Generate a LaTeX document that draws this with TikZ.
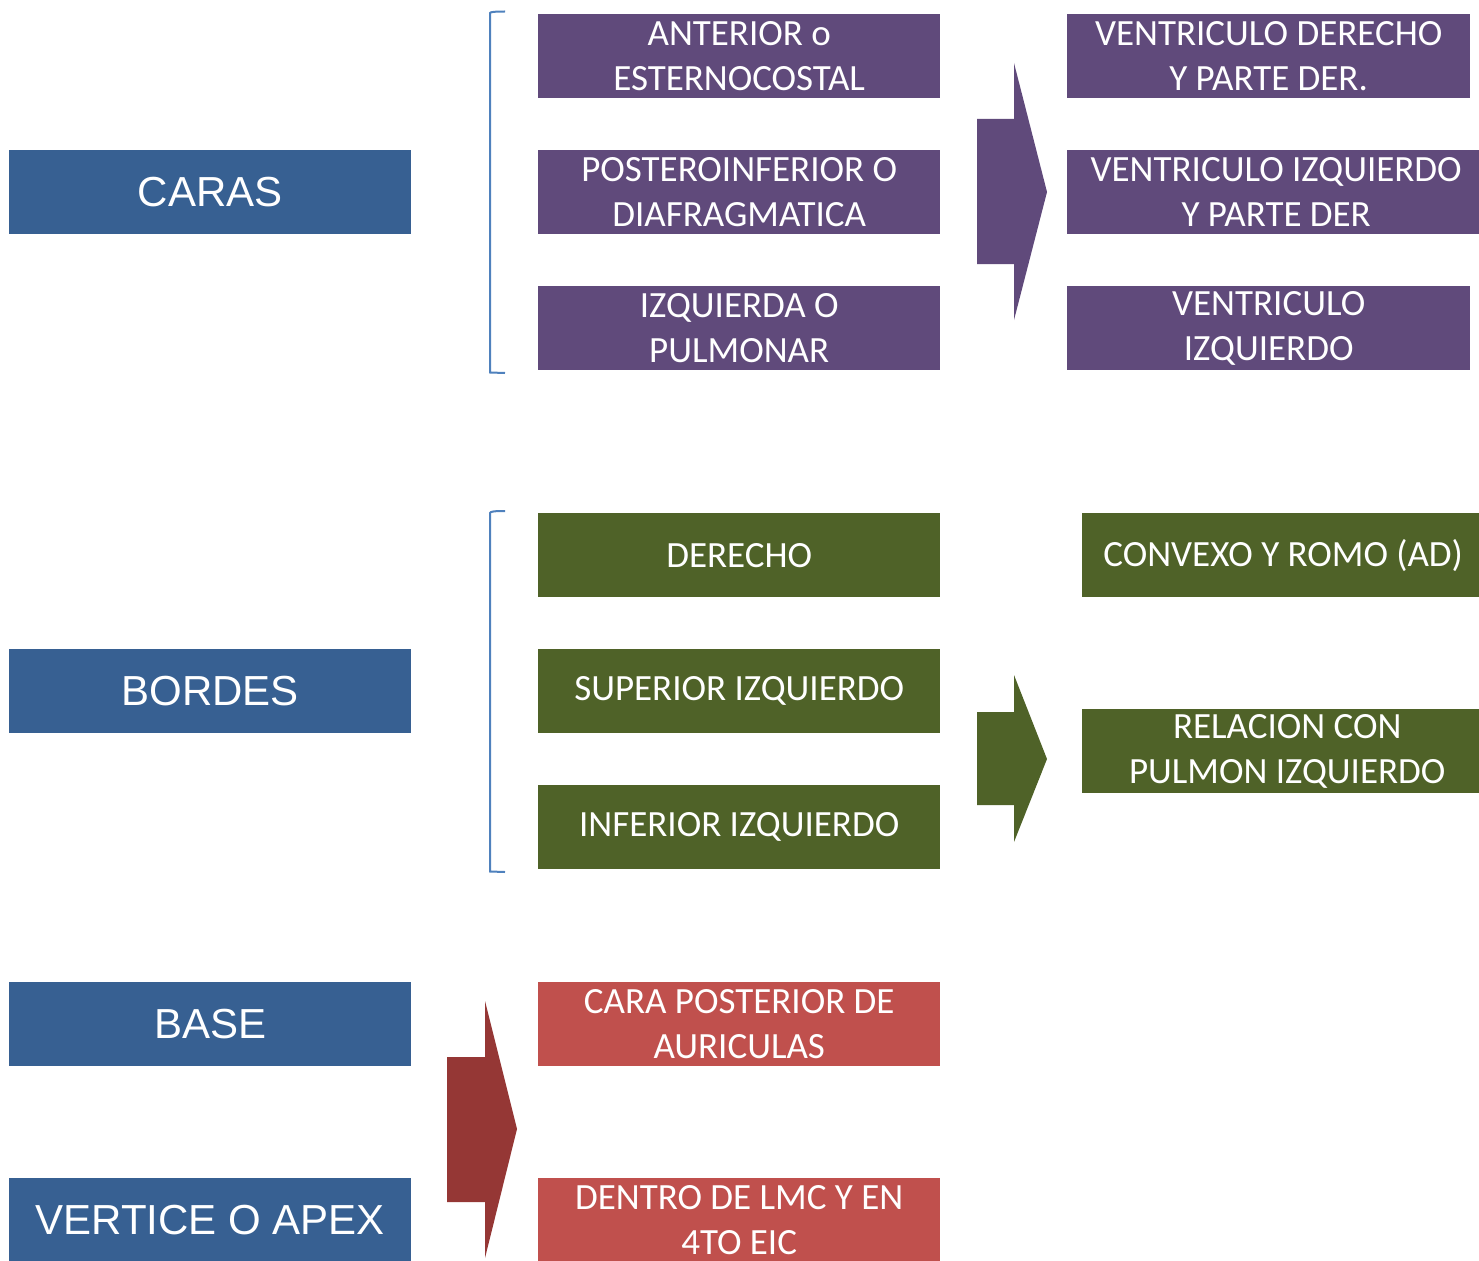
\documentclass[tikz,border=0pt]{standalone}
\usepackage{fontspec}
\setmainfont{Liberation Sans}
\newfontfamily\calib{Carlito}
\definecolor{bluebox}{RGB}{55,96,146}
\definecolor{purplebox}{RGB}{96,74,123}
\definecolor{greenbox}{RGB}{79,98,40}
\definecolor{redbox}{RGB}{192,80,77}
\definecolor{redarrow}{RGB}{149,55,53}
\definecolor{bracecol}{RGB}{79,129,189}
\tikzset{
  box/.style={rectangle, inner sep=0pt, text=white, align=center, anchor=north west},
  mainbox/.style={box, fill=bluebox, minimum width=402pt, minimum height=84pt, font=\fontsize{42}{48}\selectfont},
  subbox/.style={box, minimum width=402pt, minimum height=84pt, font=\calib\fontsize{37}{45}\selectfont},
  bracket/.style={draw=bracecol, line width=2pt},
}
\begin{document}
\begin{tikzpicture}[x=1pt,y=-1pt]
\useasboundingbox (0,0) rectangle (1479,1260);
\clip (0,0) rectangle (1479,1260);
% left column
\node[mainbox] (caras) at (9,150) {CARAS};
\node[mainbox] (bordes) at (9,649) {BORDES};
\node[mainbox] (base) at (9,982) {BASE};
\node[mainbox] (vertice) at (9,1178) {VERTICE O APEX};
% caras middle
\node[subbox, fill=purplebox] (ant) at (538,14) {ANTERIOR o\\ESTERNOCOSTAL};
\node[subbox, fill=purplebox] (post) at (538,150) {POSTEROINFERIOR O\\DIAFRAGMATICA};
\node[subbox, fill=purplebox] (izq) at (538,286) {IZQUIERDA O\\PULMONAR};
% caras right
\node[subbox, fill=purplebox, minimum width=403pt] (vd) at (1067,14) {VENTRICULO DERECHO\\Y PARTE DER.};
\node[subbox, fill=purplebox, minimum width=418pt] (vi) at (1067,150) {VENTRICULO IZQUIERDO\\Y PARTE DER};
\node[subbox, fill=purplebox, minimum width=403pt] (vizq) at (1067,286) {VENTRICULO\\IZQUIERDO};
% bordes middle
\node[subbox, fill=greenbox] (der) at (538,513) {DERECHO};
\node[subbox, fill=greenbox] (supiz) at (538,649) {SUPERIOR IZQUIERDO};
\node[subbox, fill=greenbox] (infiz) at (538,785) {INFERIOR IZQUIERDO};
% bordes right
\node[subbox, fill=greenbox, minimum width=402pt] (conv) at (1082,513) {CONVEXO Y ROMO (AD)};
\node[subbox, fill=greenbox, minimum width=410pt] (rel) at (1082,709) {RELACION CON\\PULMON IZQUIERDO};
% base / apex
\node[subbox, fill=redbox] (cara) at (538,982) {CARA POSTERIOR DE\\AURICULAS};
\node[subbox, fill=redbox] (dentro) at (538,1178) {DENTRO DE LMC Y EN\\4TO EIC};
% brackets
\draw[bracket] (505,11.5) .. controls (495,11.5) and (490,12) .. (490,13) -- (490,372.5) -- (505,373);
\draw[bracket] (505,511) .. controls (495,511) and (490,511.5) .. (490,513) -- (490,871.5) -- (505,872);
% block arrows
\fill[purplebox] (977,119) -- (1014,119) -- (1014,63) -- (1047,192) -- (1014,320) -- (1014,264) -- (977,264) -- cycle;
\fill[greenbox] (977,712) -- (1014,712) -- (1014,675) -- (1047,759) -- (1014,842) -- (1014,805) -- (977,805) -- cycle;
\fill[redarrow] (447,1057) -- (485,1057) -- (485,1001) -- (517,1129) -- (485,1258) -- (485,1202) -- (447,1202) -- cycle;
\end{tikzpicture}
\end{document}
